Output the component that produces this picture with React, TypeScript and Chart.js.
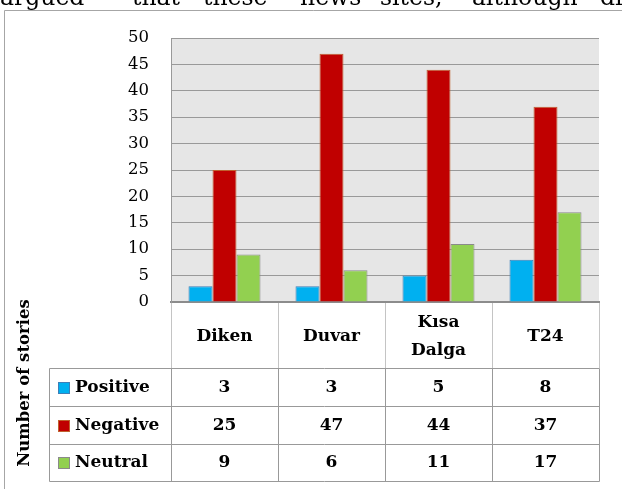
import React, { useEffect, useRef } from "react";
import { Chart, registerables } from "chart.js";

Chart.register(...registerables);

// ---- data ----
const categories = ["Diken", "Duvar", "Kısa Dalga", "T24"];
const headerLines = [["Diken"], ["Duvar"], ["Kısa", "Dalga"], ["T24"]];
const seriesNames = ["Positive", "Negative", "Neutral"];
const positive = [3, 3, 5, 8];
const negative = [25, 47, 44, 37];
const neutral = [9, 6, 11, 17];
const yMin = 0;
const yMax = 50;
const yStep = 5;
const yAxisTitle = "Number of stories";
const fragmentWords = ["argued", "that", "these", "news", "sites,", "although", "disp"];

// ---- styles ----
const fillColors = ["#00b0f0", "#c00000", "#92d050"];
const borderColors = ["#3d7fb8", "#c0612f", "#8a8a8a"];
const FONT = "'DejaVu Serif', 'Liberation Serif', serif";
const fragmentX = [0, 132, 203, 300, 380, 472, 600];

const tablePlugin = {
  id: "tablePlugin",
  beforeDraw(chart: any) {
    const { ctx, chartArea } = chart;
    ctx.save();
    ctx.fillStyle = "#e6e6e6";
    ctx.fillRect(chartArea.left, chartArea.top, chartArea.right - chartArea.left, chartArea.bottom - chartArea.top);
    ctx.restore();
  },
  afterDraw(chart: any) {
    const { ctx, chartArea } = chart;
    const { left, right, bottom } = chartArea;
    const n = categories.length;
    const colW = (right - left) / n;
    const headerBottom = bottom + 66;
    const rowBounds = [headerBottom, headerBottom + 38, headerBottom + 76, headerBottom + 113];
    const legendLeft = 49;
    const px = (v: number) => Math.round(v) + 0.5;

    ctx.save();
    // fragment of body text above the chart (clipped at top of page)
    ctx.fillStyle = "#000";
    ctx.font = `23.5px ${FONT}`;
    ctx.textAlign = "left";
    ctx.textBaseline = "alphabetic";
    fragmentWords.forEach((w, i) => ctx.fillText(w, fragmentX[i], 5));

    // outer frame
    ctx.fillStyle = "#fff";
    ctx.fillRect(0, 10, 622, 1);
    ctx.strokeStyle = "#a6a6a6";
    ctx.lineWidth = 1;
    ctx.beginPath();
    ctx.moveTo(px(4), 489);
    ctx.lineTo(px(4), px(10));
    ctx.lineTo(622, px(10));
    ctx.stroke();

    // header verticals
    ctx.strokeStyle = "#c4c4c4";
    ctx.beginPath();
    for (let i = 0; i <= n; i++) {
      const x = px(left + i * colW);
      ctx.moveTo(x, bottom + 1);
      ctx.lineTo(x, headerBottom);
    }
    ctx.stroke();

    // body grid
    ctx.strokeStyle = "#999999";
    ctx.beginPath();
    rowBounds.forEach((y) => {
      ctx.moveTo(px(legendLeft), px(y));
      ctx.lineTo(px(right), px(y));
    });
    const vx = [legendLeft, ...Array.from({ length: n + 1 }, (_, i) => left + i * colW)];
    vx.forEach((x) => {
      ctx.moveTo(px(x), px(rowBounds[0]));
      ctx.lineTo(px(x), px(rowBounds[3]));
    });
    ctx.stroke();

    // header labels
    ctx.fillStyle = "#000";
    ctx.font = `bold 17px ${FONT}`;
    ctx.textAlign = "center";
    ctx.textBaseline = "middle";
    headerLines.forEach((lines, i) => {
      const cx = chart.scales.x.getPixelForValue(i);
      const cy = (bottom + headerBottom) / 2 + 2;
      const lh = 28;
      lines.forEach((t, k) => {
        ctx.fillText(t, cx, cy + (k - (lines.length - 1) / 2) * lh);
      });
    });

    // rows
    const data = [positive, negative, neutral];
    data.forEach((vals, r) => {
      const cy = (rowBounds[r] + rowBounds[r + 1]) / 2 + 0.5;
      // legend key
      ctx.fillStyle = fillColors[r];
      ctx.fillRect(58, Math.round(cy) - 6, 12, 12);
      ctx.strokeStyle = borderColors[r];
      ctx.strokeRect(58.5, Math.round(cy) - 5.5, 11, 11);
      ctx.fillStyle = "#000";
      ctx.textAlign = "left";
      ctx.fillText(seriesNames[r], 75, cy);
      ctx.textAlign = "center";
      vals.forEach((v, i) => {
        ctx.fillText(String(v), chart.scales.x.getPixelForValue(i), cy);
      });
    });

    // y axis title
    ctx.save();
    ctx.translate(25, 383);
    ctx.rotate(-Math.PI / 2);
    ctx.font = `bold 16.5px ${FONT}`;
    ctx.textAlign = "center";
    ctx.textBaseline = "middle";
    ctx.fillText(yAxisTitle, 0, 0);
    ctx.restore();

    ctx.restore();
  },
};

export default function App() {
  const ref = useRef<HTMLCanvasElement>(null);
  useEffect(() => {
    if (!ref.current) return;
    const series = [positive, negative, neutral];
    const chart = new Chart(ref.current, {
      type: "bar",
      data: {
        labels: categories,
        datasets: series.map((d, i) => ({
          label: seriesNames[i],
          data: d,
          backgroundColor: fillColors[i],
          borderColor: borderColors[i],
          borderWidth: 1,
          categoryPercentage: 0.673,
          barPercentage: 1,
        })),
      },
      options: {
        animation: false,
        responsive: false,
        devicePixelRatio: 1,
        layout: { padding: { top: 38, right: 23, left: 0, bottom: 0 } },
        plugins: { legend: { display: false }, tooltip: { enabled: false } },
        scales: {
          x: {
            grid: { display: false, drawTicks: false },
            ticks: { display: false },
            border: { color: "#8c8c8c", width: 2 },
            afterFit: (s: any) => {
              s.height = 187;
            },
          },
          y: {
            min: yMin,
            max: yMax,
            ticks: {
              stepSize: yStep,
              color: "#000",
              padding: 22,
              font: { family: FONT, size: 16.5 },
            },
            grid: { color: "#999999", drawTicks: false, lineWidth: 1 },
            border: { color: "#999999", width: 1 },
            afterFit: (s: any) => {
              s.width = 171;
            },
          },
        },
      },
      plugins: [tablePlugin],
    });
    return () => chart.destroy();
  }, []);
  return (
    <div style={{ position: "absolute", left: 0, top: 0, width: 622, height: 489, background: "#fff" }}>
      <canvas ref={ref} width={622} height={489} style={{ display: "block" }} />
    </div>
  );
}
